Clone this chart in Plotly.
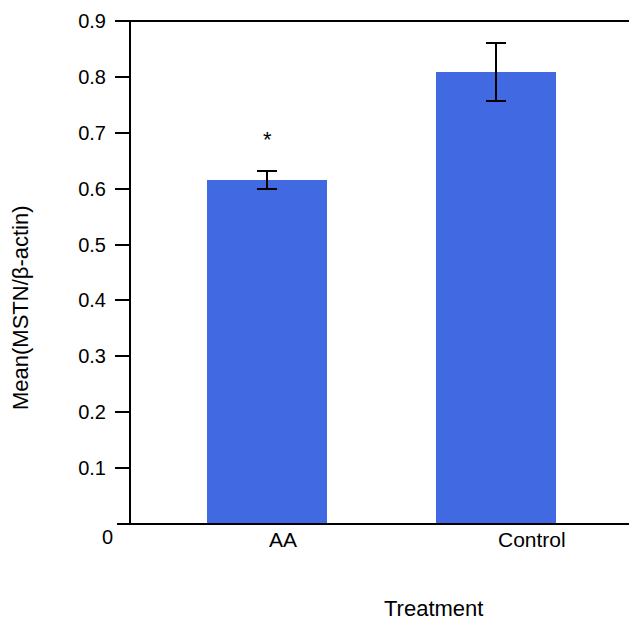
import plotly.graph_objects as go

categories = ["AA", "Control"]
means = [0.615, 0.809]
errors = [0.016, 0.052]
ytick_vals = [0.1, 0.2, 0.3, 0.4, 0.5, 0.6, 0.7, 0.8, 0.9]
ytick_text = ["0.1", "0.2", "0.3", "0.4", "0.5", "0.6", "0.7", "0.8", "0.9"]
sig_marks = ["*", ""]
sig_y = [0.688, None]

FONT = "Liberation Sans, Arial, sans-serif"
xpos = list(range(len(categories)))

fig = go.Figure()
fig.add_trace(go.Bar(
    x=xpos, y=means, width=0.524,
    marker=dict(color="#4169E1", line=dict(width=0)),
    error_y=dict(type="data", array=errors, color="black", thickness=2, width=10),
    showlegend=False,
))

annotations = []
for i, c in enumerate(categories):
    annotations.append(dict(x=xpos[i], y=-0.004, xref="x", yref="paper", text=c,
                            showarrow=False, xanchor="left", yanchor="top",
                            font=dict(family=FONT, size=21, color="black")))
    if sig_marks[i]:
        annotations.append(dict(x=xpos[i], y=sig_y[i], xref="x", yref="y", text=sig_marks[i],
                                showarrow=False, xanchor="center", yanchor="middle",
                                font=dict(family=FONT, size=22, color="black")))
annotations.append(dict(x=(107 - 131) / 498, y=0, xref="paper", yref="y", text="0",
                        showarrow=False, xanchor="center", yanchor="top", yshift=0,
                        font=dict(family=FONT, size=20, color="black")))
annotations.append(dict(x=(433 - 131) / 498, y=(524 - 608) / 503, xref="paper", yref="paper",
                        text="Treatment", showarrow=False, xanchor="center", yanchor="middle",
                        font=dict(family=FONT, size=22, color="black")))
annotations.append(dict(x=(20 - 131) / 498, y=(524 - 308) / 503, xref="paper", yref="paper",
                        text="Mean(MSTN/β-actin)", textangle=-90, showarrow=False,
                        xanchor="center", yanchor="middle",
                        font=dict(family=FONT, size=22, color="black")))

shapes = [
    dict(type="line", xref="paper", yref="paper", x0=-14 / 498, x1=1, y0=0, y1=0,
         line=dict(color="black", width=2)),
    dict(type="line", xref="paper", yref="paper", x0=-14 / 498, x1=1, y0=1, y1=1,
         line=dict(color="black", width=2)),
]

fig.update_layout(
    width=629, height=622,
    margin=dict(l=131, r=0, t=21, b=98),
    plot_bgcolor="white", paper_bgcolor="white",
    font=dict(family=FONT, size=20, color="black"),
    xaxis=dict(range=[-0.594, 1.581], showticklabels=False, showgrid=False,
               zeroline=False, showline=False, ticks=""),
    yaxis=dict(range=[0, 0.9], tickvals=ytick_vals, ticktext=ytick_text,
               showgrid=False, zeroline=False, showline=True, linecolor="black",
               linewidth=2, ticks="outside", ticklen=14, tickwidth=2, tickcolor="black",
               ticklabelstandoff=5,
               tickfont=dict(family=FONT, size=20, color="black")),
    annotations=annotations,
    shapes=shapes,
    bargap=0,
)

fig.write_html("out.html")
